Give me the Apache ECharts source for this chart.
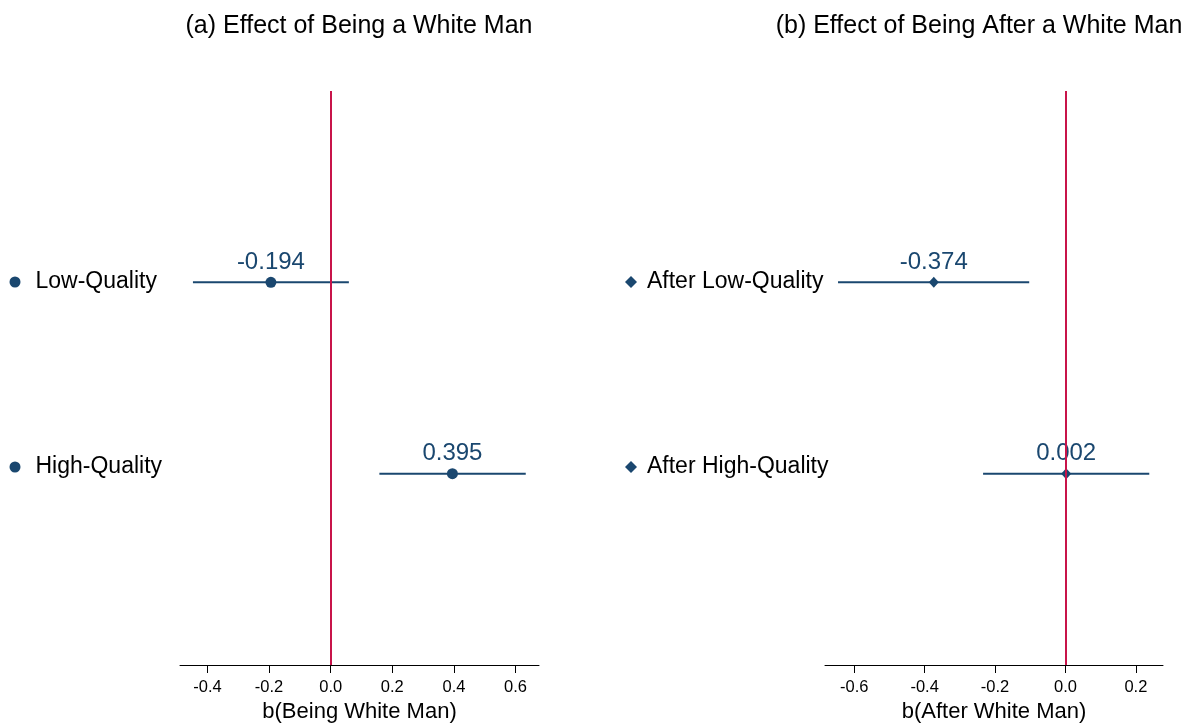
<!DOCTYPE html>
<html>
<head>
<meta charset="utf-8">
<script src="https://cdn.jsdelivr.net/npm/echarts@6/dist/echarts.min.js"></script>
<style>
  html, body { margin: 0; padding: 0; background: #fff; }
  #main { width: 1195px; height: 728px; }
</style>
</head>
<body>
<div id="main"></div>
<script>
// panel (a): effect of being a white man
var rowsA = ['Low-Quality', 'High-Quality'];
var coefA = [-0.194, 0.395];
var lowA = [-0.447, 0.158];
var highA = [0.059, 0.633];
var ticksA = [-0.4, -0.2, 0, 0.2, 0.4, 0.6];

// panel (b): effect of being after a white man
var rowsB = ['After Low-Quality', 'After High-Quality'];
var coefB = [-0.374, 0.002];
var lowB = [-0.646, -0.234];
var highB = [-0.103, 0.238];
var ticksB = [-0.6, -0.4, -0.2, 0, 0.2];

var navy = '#1a476f';
var red = '#c8144a';
var font = "'Liberation Sans', Arial, Helvetica, sans-serif";

var chart = echarts.init(document.getElementById('main'));

function ciSeries(idx, lows, highs) {
  var data = [];
  for (var i = 0; i < lows.length; i++) {
    data.push([lows[i], highs[i], i + 1]);
  }
  return {
    type: 'custom',
    name: 'ci' + idx,
    xAxisIndex: idx,
    yAxisIndex: idx,
    z: 2,
    silent: true,
    encode: { x: [0, 1], y: 2 },
    data: data,
    renderItem: function (params, api) {
      var a = api.coord([api.value(0), api.value(2)]);
      var b = api.coord([api.value(1), api.value(2)]);
      return {
        type: 'line',
        shape: { x1: a[0], y1: a[1], x2: b[0], y2: b[1] },
        style: { stroke: navy, lineWidth: 2 }
      };
    }
  };
}

function pointSeries(idx, names, coefs, symbol, size) {
  var out = [];
  for (var i = 0; i < names.length; i++) {
    out.push({
      type: 'scatter',
      name: names[i],
      xAxisIndex: idx,
      yAxisIndex: idx,
      z: 4,
      symbol: symbol,
      symbolSize: size,
      itemStyle: { color: navy, opacity: 1 },
      label: {
        show: true,
        position: 'inside',
        offset: [0, -20],
        color: navy,
        fontSize: 24,
        fontFamily: font,
        formatter: function (p) { return p.value[0].toFixed(3); }
      },
      data: [[coefs[i], i + 1]]
    });
  }
  return out;
}

function zeroLine(idx) {
  return {
    type: 'line',
    name: 'zero' + idx,
    xAxisIndex: idx,
    yAxisIndex: idx,
    z: 3,
    data: [],
    markLine: {
      silent: true,
      symbol: 'none',
      animation: false,
      label: { show: false },
      lineStyle: { color: red, width: 2, type: 'solid' },
      data: [{ xAxis: 0 }]
    }
  };
}

function xAxis(idx, min, max, ticks, name) {
  return {
    type: 'value',
    gridIndex: idx,
    min: min,
    max: max,
    name: name,
    nameLocation: 'middle',
    nameGap: 25,
    nameTextStyle: { color: '#000', fontSize: 22, fontFamily: font },
    axisLine: { show: true, onZero: false, lineStyle: { color: '#000', width: 1 } },
    axisTick: { show: true, length: 8, customValues: ticks, lineStyle: { color: '#000' } },
    axisLabel: {
      customValues: ticks,
      margin: 14,
      color: '#000',
      fontSize: 16.5,
      fontFamily: font,
      formatter: function (v) { return v.toFixed(1); }
    },
    splitLine: { show: false }
  };
}

function yAxis(idx) {
  return { type: 'value', gridIndex: idx, min: 0, max: 3, inverse: true, show: false };
}

// icons keep their own size; the extra left padding opens the gap before the text
function legend(names, icon, left, size, gap) {
  return {
    orient: 'vertical',
    left: left,
    top: 269,
    padding: 0,
    itemWidth: size,
    itemHeight: size,
    itemGap: 159,
    selectedMode: false,
    textStyle: { color: '#000', fontSize: 23, lineHeight: 26, fontFamily: font, padding: [0, 0, 0, gap] },
    data: names.map(function (n) { return { name: n, icon: icon }; })
  };
}

var option = {
  animation: false,
  backgroundColor: '#fff',
  grid: [
    { left: 180, top: 91, width: 359, height: 574 },
    { left: 825, top: 91, width: 338, height: 574 }
  ],
  xAxis: [
    xAxis(0, -0.489, 0.676, ticksA, 'b(Being White Man)'),
    xAxis(1, -0.683, 0.277, ticksB, 'b(After White Man)')
  ],
  yAxis: [yAxis(0), yAxis(1)],
  legend: [
    legend(rowsA, 'circle', 9.5, 11, 10),
    legend(rowsB, 'diamond', 625, 12, 5)
  ],
  graphic: [
    {
      type: 'text', x: 359, y: 26,
      style: { text: '(a) Effect of Being a White Man', fill: '#000', font: '25px ' + font, textAlign: 'center', textVerticalAlign: 'middle' }
    },
    {
      type: 'text', x: 979, y: 26,
      style: { text: '(b) Effect of Being After a White Man', fill: '#000', font: '25px ' + font, textAlign: 'center', textVerticalAlign: 'middle' }
    }
  ],
  series: [].concat(
    [ciSeries(0, lowA, highA), zeroLine(0)],
    pointSeries(0, rowsA, coefA, 'circle', 11),
    [ciSeries(1, lowB, highB), zeroLine(1)],
    pointSeries(1, rowsB, coefB, 'diamond', [10, 11])
  )
};

chart.setOption(option);
</script>
</body>
</html>
